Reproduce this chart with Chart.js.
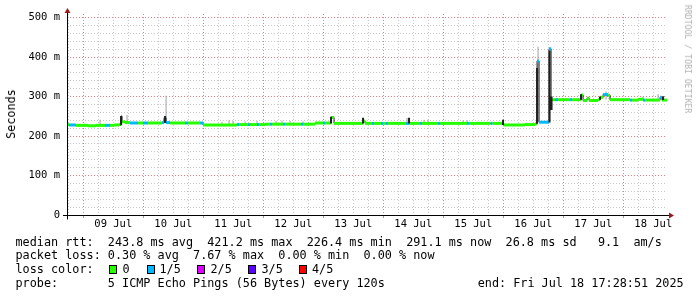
<!DOCTYPE html>
<html>
<head>
<meta charset="utf-8">
<script src="https://cdn.jsdelivr.net/npm/chart.js@4.4.1/dist/chart.umd.min.js"></script>
<style>
html, body { margin: 0; padding: 0; background: #fff; }
#wrap { position: relative; width: 697px; height: 297px; overflow: hidden; font-family: "DejaVu Sans Mono", monospace; color: #000; }
#c { position: absolute; left: 0; top: 0; }
.t { position: absolute; white-space: pre; font-size: 11.8px; line-height: 14px; }
.sw { position: absolute; top: 265px; width: 6px; height: 7px; border: 1px solid #000; }
.rot { position: absolute; white-space: pre; }
</style>
</head>
<body>
<div id="wrap">
  <canvas id="c" width="697" height="297"></canvas>
  <div class="rot" style="left:11px;top:114px;font-size:11.8px;transform:translate(-50%,-50%) rotate(-90deg);">Seconds</div>
  <div class="rot" style="left:688px;top:59px;font-size:8.2px;color:#b0b0b0;transform:translate(-50%,-50%) rotate(90deg);">RRDTOOL / TOBI OETIKER</div>
  <div id="legend"></div>
</div>
<script>
// time axis in hours since Jul 8 00:00
const START = 17.48;
const END = 257.48;

const dayLabels = ['09 Jul', '10 Jul', '11 Jul', '12 Jul', '13 Jul', '14 Jul', '15 Jul', '16 Jul', '17 Jul', '18 Jul'];
const yTickLabels = ['0', '100 m', '200 m', '300 m', '400 m', '500 m'];

// median rtt (ms) change points, and loss (pings lost of 5) for each
const hours = [17.5, 18.3, 21.1, 25.9, 29.1, 32.7, 34.7, 36.3, 38.3, 39.1, 39.5, 40.7, 42.7, 45.9, 47.9, 49.9,
  55.5, 56.3, 57.1, 58.7, 64.7, 65.9, 70.7, 71.9, 85.5, 86.3, 89.9, 90.7, 93.5, 94.3, 96.7, 98.7, 99.5,
  103.9, 104.7, 111.1, 111.9, 116.7, 119.9, 120.7, 123.1, 124.3, 135.9, 136.7, 139.5, 140.3, 143.1, 143.9,
  145.1, 145.9, 153.1, 154.3, 158.7, 159.5, 165.9, 166.7, 177.5, 178.3, 186.9, 187.7, 191.9, 200.7, 204.7,
  205.5, 206.3, 210.3, 211.1, 212.7, 213.9, 218.7, 219.5, 223.1, 223.9, 225.5, 226.3, 229.9, 230.7, 231.9,
  233.9, 234.7, 242.7, 243.5, 245.9, 247.9, 248.7, 254.7, 255.5];
const median = [229, 228, 227, 226, 227, 227, 227, 228, 229, 250, 236, 234, 233, 233, 233, 233,
  234, 246, 234, 233, 233, 233, 233, 228, 229, 229, 229, 229, 229, 229, 230, 230, 230,
  230, 230, 230, 230, 233, 233, 233, 247, 232, 238, 232, 232, 232, 232, 232,
  232, 232, 232, 232, 232, 232, 232, 232, 232, 232, 232, 232, 228, 229, 231,
  390, 235, 421, 292, 292, 292, 292, 292, 304, 290, 296, 290, 292, 298, 305,
  303, 292, 291, 291, 293, 291, 291, 298, 291];
const loss = [0, 1, 0, 0, 0, 1, 0, 0, 0, 0, 0, 0, 1, 0, 1, 0,
  1, 1, 1, 0, 1, 0, 1, 0, 1, 0, 1, 0, 1, 0, 0, 1, 0,
  1, 0, 1, 0, 0, 1, 0, 0, 0, 0, 0, 1, 0, 1, 0,
  1, 0, 1, 0, 1, 0, 1, 0, 1, 0, 1, 0, 0, 0, 0,
  1, 1, 1, 0, 1, 0, 1, 0, 0, 0, 0, 0, 0, 0, 1,
  0, 0, 1, 0, 0, 1, 0, 1, 0];

// smoke (spread of the pings), light
const smokeHours = [30.7, 41.5, 57.1, 79.5, 82.3, 83.9, 88.7, 93.5, 101.1, 103.5, 106.7, 111.9, 153.5, 160.3,
  161.9, 175.9, 177.5, 205.9, 223.1, 233.1, 234.7, 247.9, 253.9];
const smokeLo = [227, 233, 233, 229, 229, 229, 229, 229, 230, 230, 230, 230, 232, 232,
  232, 232, 232, 236, 292, 292, 292, 291, 291];
const smokeHi = [241, 253, 302, 236, 240, 238, 237, 238, 238, 239, 238, 237, 246, 241,
  241, 240, 240, 426, 306, 313, 303, 300, 306];

// dense smoke, dark
const darkHours = [39.1, 56.7, 123.1, 135.9, 154.3, 191.9, 205.5, 210.5, 211.3, 223.1, 230.7, 255.9];
const darkLo = [227, 233, 232, 232, 232, 228, 231, 234, 266, 292, 292, 291];
const darkHi = [251, 251, 249, 246, 246, 241, 372, 416, 300, 306, 300, 301];

const lossColors = ['#26ff00', '#00b8ff', '#dd00ff', '#5e00ff', '#ff0000'];
const lossNames = ['0', '1/5', '2/5', '3/5', '4/5'];

const GRID = 'rgba(143,143,143,0.5)';
const MGRID = 'rgba(225,70,70,0.7)';
const ARROW = '#9b1b1b';

function spikes(hs, lo, hi) {
  const d = [];
  hs.forEach((h, i) => { d.push({x: h, y: lo[i]}, {x: h, y: hi[i]}, {x: h, y: null}); });
  return d;
}

// thin dark median line (stepped) and the loss coloured band on top of it (flat pieces only)
const medianData = hours.map((h, i) => ({x: h, y: median[i]}));
medianData.push({x: END, y: median[median.length - 1]});
const bandData = [];
hours.forEach((h, i) => {
  const next = i + 1 < hours.length ? hours[i + 1] : END;
  bandData.push({x: h, y: median[i]}, {x: next, y: median[i]}, {x: next, y: null});
});

const axesPlugin = {
  id: 'axes',
  afterDatasetsDraw(chart) {
    const {ctx, chartArea: a} = chart;
    const y0 = Math.round(chart.scales.y.getPixelForValue(0)) + 0.5;
    const x0 = Math.round(a.left) + 0.5;
    ctx.save();
    ctx.strokeStyle = '#000';
    ctx.lineWidth = 1;
    ctx.beginPath();
    ctx.moveTo(a.left - 4, y0); ctx.lineTo(a.right + 2, y0);
    ctx.moveTo(x0, y0 + 4); ctx.lineTo(x0, a.top - 2);
    ctx.stroke();
    ctx.fillStyle = ARROW;
    ctx.beginPath();
    ctx.moveTo(a.right + 2, y0 - 3); ctx.lineTo(a.right + 7, y0); ctx.lineTo(a.right + 2, y0 + 3);
    ctx.closePath(); ctx.fill();
    ctx.beginPath();
    ctx.moveTo(x0 - 3, a.top - 1); ctx.lineTo(x0, a.top - 6); ctx.lineTo(x0 + 3, a.top - 1);
    ctx.closePath(); ctx.fill();
    ctx.restore();
  }
};

new Chart(document.getElementById('c'), {
  type: 'line',
  data: {
    datasets: [{
      label: 'smoke',
      data: spikes(smokeHours, smokeLo, smokeHi),
      borderColor: '#a0a0a0',
      borderWidth: 1,
      pointRadius: 0,
      spanGaps: false,
      order: 4
    }, {
      label: 'median',
      data: medianData,
      stepped: 'before',
      borderWidth: 1,
      borderColor: '#202020',
      pointRadius: 0,
      order: 3
    }, {
      label: 'loss',
      data: bandData,
      borderWidth: 3,
      borderColor: lossColors[0],
      borderCapStyle: 'butt',
      spanGaps: false,
      segment: {
        borderColor: c => lossColors[loss[Math.floor(c.p0DataIndex / 3)]]
      },
      pointRadius: 0,
      order: 2
    }, {
      label: 'dark',
      data: spikes(darkHours, darkLo, darkHi),
      borderColor: '#202020',
      borderWidth: 2,
      pointRadius: 0,
      spanGaps: false,
      order: 1
    }]
  },
  options: {
    responsive: false,
    devicePixelRatio: 1,
    animation: false,
    events: [],
    layout: { padding: { top: 14, right: 30, left: 0, bottom: 0 } },
    plugins: { legend: { display: false }, tooltip: { enabled: false } },
    scales: {
      x: {
        type: 'linear',
        min: START,
        max: END,
        offset: false,
        afterFit: s => { s.height = 82; },
        afterBuildTicks: s => {
          const t = [];
          for (let h = 18; h <= END; h += 6) t.push({value: h});
          s.ticks = t;
        },
        ticks: {
          autoSkip: false,
          maxRotation: 0,
          padding: 0,
          color: '#000',
          font: { family: 'DejaVu Sans Mono', size: 10.5 },
          callback: v => (v % 24 === 12 ? dayLabels[Math.floor(v / 24) - 1] : '')
        },
        grid: {
          color: c => (c.tick && c.tick.value % 24 === 0 ? MGRID : GRID),
          tickColor: c => (c.tick && c.tick.value % 24 === 0 ? MGRID : 'rgba(0,0,0,0)'),
          tickLength: 3,
          lineWidth: 1
        },
        border: { display: false, dash: [1, 2] }
      },
      y: {
        type: 'linear',
        min: 0,
        max: 509,
        afterFit: s => { s.width = 67; },
        afterBuildTicks: s => {
          const t = [];
          for (let v = 0; v <= 500; v += 20) t.push({value: v});
          s.ticks = t;
        },
        ticks: {
          autoSkip: false,
          padding: 7,
          color: '#000',
          font: { family: 'DejaVu Sans Mono', size: 10.5 },
          callback: v => (v % 100 === 0 ? yTickLabels[v / 100] : '')
        },
        grid: {
          color: c => (c.tick && c.tick.value % 100 === 0 ? MGRID : GRID),
          drawTicks: false,
          lineWidth: 1
        },
        border: { display: false, dash: [1, 2] }
      }
    }
  },
  plugins: [axesPlugin]
});

// legend text below the graph
const lg = document.getElementById('legend');
function addText(txt, left, top) {
  const d = document.createElement('div');
  d.className = 't';
  d.style.left = left + 'px';
  d.style.top = top + 'px';
  d.textContent = txt;
  lg.appendChild(d);
}
addText('median rtt:  243.8 ms avg  421.2 ms max  226.4 ms min  291.1 ms now  26.8 ms sd   9.1  am/s', 15.5, 234.6);
addText('packet loss: 0.30 % avg  7.67 % max  0.00 % min  0.00 % now', 15.5, 248.3);
addText('loss color:', 15.5, 262.1);
const swatchX = [108.5, 146.5, 196.5, 247.5, 298.5];
const swatchTextX = [122.5, 159.5, 210.5, 261.5, 312];
lossNames.forEach((n, i) => {
  const s = document.createElement('div');
  s.className = 'sw';
  s.style.left = swatchX[i] + 'px';
  s.style.background = lossColors[i];
  lg.appendChild(s);
  addText(n, swatchTextX[i], 262.1);
});
addText('probe:       5 ICMP Echo Pings (56 Bytes) every 120s', 15.5, 275.8);
addText('end: Fri Jul 18 17:28:51 2025', 477.7, 275.8);
</script>
</body>
</html>
